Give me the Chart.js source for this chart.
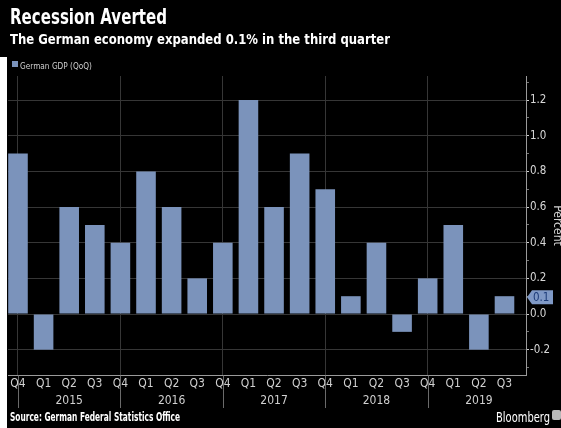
<!DOCTYPE html>
<html>
<head>
<meta charset="utf-8">
<script src="https://cdn.jsdelivr.net/npm/chart.js"></script>
<style>
html,body{margin:0;padding:0;background:#000;width:561px;height:428px;overflow:hidden}
#wrap{position:relative;width:561px;height:428px;background:#000}
canvas{position:absolute;left:0;top:0}
.t{position:absolute;white-space:nowrap;transform-origin:0 0;color:#fff;
   font-family:"DejaVu Sans Condensed","DejaVu Sans",sans-serif;}
#strip{position:absolute;left:0;top:57px;width:7px;height:371px;background:#fff}
#logo{position:absolute;left:552px;top:410px;width:9px;height:10px;background:#b8b8b8;border-radius:2px}
</style>
</head>
<body>
<div id="wrap">
  <canvas id="c" width="561" height="428" style="width:561px;height:428px"></canvas>
  <div id="strip"></div>
  <div class="t" data-w="157" style="left:10px;top:7px;font-size:21px;line-height:21px;font-weight:bold">Recession Averted</div>
  <div class="t" data-w="380" style="left:10px;top:31.5px;font-size:14px;line-height:14px;font-weight:bold">The German economy expanded 0.1% in the third quarter</div>
  <div style="position:absolute;left:12px;top:61px;width:6px;height:6px;background:#7b93bb"></div>
  <div class="t" data-w="72" style="left:20px;top:61px;font-size:9.5px;line-height:9.5px;color:#cfcfcf">German GDP (QoQ)</div>
  <div class="t" data-w="170" style="left:10px;top:412px;font-size:11.5px;line-height:11.5px;font-weight:bold">Source: German Federal Statistics Office</div>
  <div class="t" data-w="54" style="left:496px;top:410.5px;font-size:13.5px;line-height:13.5px">Bloomberg</div>
  <div id="logo"></div>
</div>
<script>
const quarters = ['Q4','Q1','Q2','Q3','Q4','Q1','Q2','Q3','Q4','Q1','Q2','Q3','Q4','Q1','Q2','Q3','Q4','Q1','Q2','Q3'];
const years    = ['','','2015','','','','2016','','','','2017','','','','2018','','','','2019',''];
const gdp      = [0.9,-0.2,0.6,0.5,0.4,0.8,0.6,0.2,0.4,1.2,0.6,0.9,0.7,0.1,0.4,-0.1,0.2,0.5,-0.2,0.1];
const yMajor   = [-0.2,0.0,0.2,0.4,0.6,0.8,1.0,1.2];
const yMinor   = [-0.3,-0.1,0.1,0.3,0.5,0.7,0.9,1.1,1.3];
const separatorIdx = [0,4,8,12,16];

document.querySelectorAll('[data-w]').forEach(el=>{
  const w = el.getBoundingClientRect().width;
  if (w>0) el.style.transform = 'scaleX(' + (+el.dataset.w / w) + ')';
});

const isMajor = v => yMajor.some(m => Math.abs(m - v) < 1e-6);
const BAR = '#7b93bb';

Chart.defaults.font.family = '"Liberation Sans Narrow","DejaVu Sans Condensed","DejaVu Sans",sans-serif';

const separators = {
  id:'separators',
  afterDraw(chart){
    const x = chart.scales.x, c = chart.ctx;
    c.save();
    c.strokeStyle = '#6a6a6a'; c.lineWidth = 1;
    separatorIdx.forEach(i=>{
      const px = Math.round(x.getPixelForValue(i)) + 0.5;
      c.beginPath(); c.moveTo(px, x.top + 0.5); c.lineTo(px, 408); c.stroke();
    });
    c.restore();
  }
};

const callout = {
  id:'callout',
  afterDraw(chart){
    const y = chart.scales.y, c = chart.ctx;
    const last = gdp[gdp.length-1];
    const py = y.getPixelForValue(last) + 1;
    const tip = y.left + 1, l = tip + 5, r = tip + 26;
    c.save();
    c.fillStyle = '#7f99c6';
    c.beginPath();
    c.moveTo(tip, py); c.lineTo(l, py-7); c.lineTo(r, py-7); c.lineTo(r, py+7); c.lineTo(l, py+7);
    c.closePath(); c.fill();
    c.fillStyle = '#1c3b78';
    c.font = '11.5px ' + Chart.defaults.font.family;
    c.textBaseline = 'middle'; c.textAlign = 'left';
    c.fillText(last.toFixed(1), l + 1, py + 0.5);
    c.restore();
  }
};

new Chart(document.getElementById('c'), {
  type:'bar',
  data:{
    datasets:[{
      label:'German GDP (QoQ)',
      data: gdp.map((v,i)=>({x:i, y:v})),
      backgroundColor: BAR,
      borderWidth:0,
      barPercentage:0.765,
      categoryPercentage:1
    }]
  },
  options:{
    responsive:false,
    animation:false,
    layout:{padding:{left:8, top:76, right:0, bottom:0}},
    plugins:{legend:{display:false}, tooltip:{enabled:false}},
    scales:{
      x:{
        type:'linear', min:-0.39, max:19.84, offset:false,
        afterBuildTicks: s => { s.ticks = quarters.map((q,i)=>({value:i})); },
        afterFit: s => { s.height = 53; },
        grid:{
          offset:false,
          color: c => (c.tick && separatorIdx.includes(c.tick.value)) ? '#363636' : 'rgba(0,0,0,0)',
          drawTicks:false, lineWidth:1
        },
        border:{display:true, color:'#9a9a9a', width:1},
        ticks:{
          padding:0, maxRotation:0, autoSkip:false, color:'#d0d0d0',
          font:{size:12, lineHeight:1.45},
          callback:(v,i)=>[quarters[i], years[i]]
        }
      },
      y:{
        position:'right', min:-0.342, max:1.335,
        afterBuildTicks: s => { s.ticks = [...yMajor, ...yMinor].sort((a,b)=>a-b).map(v=>({value:v})); },
        afterFit: s => { s.width = 35; },
        grid:{
          offset:false,
          color: c => (c.tick && isMajor(c.tick.value)) ? '#363636' : 'rgba(0,0,0,0)',
          tickColor: c => (c.tick && isMajor(c.tick.value)) ? '#d0d0d0' : '#777',
          tickLength:3, lineWidth:1
        },
        border:{display:true, color:'#9a9a9a', width:1},
        ticks:{
          padding:1, color:'#d8d8d8', font:{size:11.5},
          callback: v => isMajor(v) ? v.toFixed(1) : ''
        },
        title:{display:true, text:'Percent', color:'#cfcfcf', font:{size:12}, padding:{top:-3, bottom:0}}
      }
    }
  },
  plugins:[separators, callout]
});
</script>
</body>
</html>
